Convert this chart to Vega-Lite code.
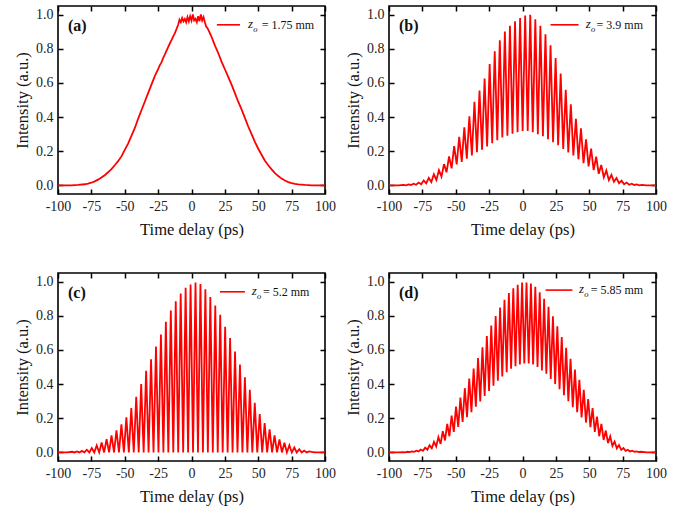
{
  "$schema": "https://vega.github.io/schema/vega-lite/v6.json",
  "background": "white",
  "padding": {"left": 13, "top": 4, "right": 5, "bottom": 5},
  "config": {
    "font": "Liberation Serif",
    "view": {"stroke": "#000", "strokeWidth": 1.6},
    "axis": {
      "labelFont": "Liberation Serif", "labelFontSize": 14, "labelColor": "#222",
      "titleFont": "Liberation Serif", "titleFontSize": 16.5, "titleFontWeight": "normal", "titleColor": "#111",
      "tickColor": "#000", "tickSize": -5, "tickWidth": 1.5, "domain": false, "grid": false, "labelPadding": 10,
      "labelOverlap": false, "labelFlush": false, "labelBound": false
    },
    "axisX": {"titlePadding": 8},
    "axisY": {"titlePadding": 5}
  },
  "datasets": {
    "a": [
      {"t":-100,"i":0.0},{"t":-95,"i":0.0},{"t":-90,"i":0.001},{"t":-85,"i":0.003},{"t":-80,"i":0.007},
      {"t":-77.5,"i":0.011},{"t":-75,"i":0.016},{"t":-72.5,"i":0.024},{"t":-70,"i":0.034},{"t":-67.5,"i":0.046},
      {"t":-65,"i":0.06},{"t":-62.5,"i":0.077},{"t":-60,"i":0.096},{"t":-57.5,"i":0.118},{"t":-55,"i":0.142},
      {"t":-52.5,"i":0.17},{"t":-50,"i":0.208},{"t":-47.5,"i":0.245},{"t":-45,"i":0.29},{"t":-42.5,"i":0.335},
      {"t":-40,"i":0.39},{"t":-37.5,"i":0.44},{"t":-35,"i":0.49},{"t":-32.5,"i":0.54},{"t":-30,"i":0.59},
      {"t":-27.5,"i":0.64},{"t":-25,"i":0.68},{"t":-24,"i":0.70},{"t":-22.5,"i":0.72},{"t":-21,"i":0.75},{"t":-20,"i":0.765},
      {"t":-17.5,"i":0.81},{"t":-16,"i":0.835},{"t":-15,"i":0.85},{"t":-13.5,"i":0.875},{"t":-12.5,"i":0.89},{"t":-11,"i":0.92},{"t":-10,"i":0.94},
      {"t":-9,"i":0.97},{"t":-8,"i":0.955},{"t":-7,"i":0.98},{"t":-6,"i":0.96},{"t":-5,"i":0.975},{"t":-4,"i":0.955},
      {"t":-3,"i":0.985},{"t":-2,"i":0.96},{"t":-1,"i":0.99},{"t":0,"i":0.965},{"t":1,"i":1.0},{"t":2,"i":0.965},
      {"t":3,"i":0.975},{"t":4,"i":0.955},{"t":5,"i":0.99},{"t":6,"i":0.96},{"t":7,"i":1.0},{"t":8,"i":0.965},
      {"t":9,"i":0.985},{"t":10,"i":0.955},{"t":11,"i":0.93},{"t":12,"i":0.92},{"t":13.5,"i":0.895},{"t":15,"i":0.87},
      {"t":16,"i":0.85},{"t":17.5,"i":0.82},{"t":20,"i":0.775},{"t":22.5,"i":0.725},{"t":25,"i":0.68},{"t":27.5,"i":0.635},
      {"t":30,"i":0.59},{"t":32.5,"i":0.54},{"t":35,"i":0.49},{"t":37.5,"i":0.445},{"t":40,"i":0.395},{"t":42.5,"i":0.345},
      {"t":45,"i":0.3},{"t":47.5,"i":0.255},{"t":50,"i":0.215},{"t":52.5,"i":0.18},{"t":55,"i":0.145},{"t":57.5,"i":0.118},
      {"t":60,"i":0.094},{"t":62.5,"i":0.072},{"t":65,"i":0.055},{"t":67.5,"i":0.04},{"t":70,"i":0.029},{"t":72.5,"i":0.02},
      {"t":75,"i":0.014},{"t":77.5,"i":0.009},{"t":80,"i":0.006},{"t":85,"i":0.003},{"t":90,"i":0.001},{"t":95,"i":0.0},{"t":100,"i":0.0}
    ],
    "b": [
      {"t":-100,"i":0.0},{"t":-93,"i":0.001},{"t":-89.2,"i":0.003},{"t":-87.3,"i":0.001},{"t":-85.4,"i":0.006},{"t":-83.5,"i":0.003},
      {"t":-81.6,"i":0.010},{"t":-79.7,"i":0.004},{"t":-77.8,"i":0.017},{"t":-75.9,"i":0.007},{"t":-74.0,"i":0.029},{"t":-72.1,"i":0.012},
      {"t":-70.2,"i":0.044},{"t":-68.3,"i":0.02},{"t":-66.4,"i":0.066},{"t":-64.5,"i":0.032},{"t":-62.6,"i":0.09},{"t":-60.7,"i":0.052},
      {"t":-58.8,"i":0.125},{"t":-56.9,"i":0.077},{"t":-55.0,"i":0.17},{"t":-53.1,"i":0.10},{"t":-51.2,"i":0.23},{"t":-49.3,"i":0.123},
      {"t":-47.4,"i":0.285},{"t":-45.5,"i":0.138},{"t":-43.6,"i":0.34},{"t":-41.7,"i":0.157},{"t":-39.8,"i":0.405},{"t":-37.9,"i":0.175},
      {"t":-36.0,"i":0.49},{"t":-34.1,"i":0.194},{"t":-32.2,"i":0.555},{"t":-30.3,"i":0.209},{"t":-28.4,"i":0.625},{"t":-26.5,"i":0.228},
      {"t":-24.6,"i":0.71},{"t":-22.7,"i":0.247},{"t":-20.8,"i":0.785},{"t":-18.9,"i":0.264},{"t":-17.0,"i":0.85},{"t":-15.1,"i":0.28},
      {"t":-13.2,"i":0.90},{"t":-11.3,"i":0.291},{"t":-9.4,"i":0.935},{"t":-7.5,"i":0.303},{"t":-5.6,"i":0.96},{"t":-3.7,"i":0.312},
      {"t":-1.8,"i":0.98},{"t":0.1,"i":0.318},{"t":2.0,"i":0.995},{"t":3.9,"i":0.318},{"t":5.8,"i":0.998},{"t":7.7,"i":0.311},
      {"t":9.6,"i":0.973},{"t":11.5,"i":0.30},{"t":13.4,"i":0.935},{"t":15.3,"i":0.288},{"t":17.2,"i":0.885},{"t":19.1,"i":0.27},
      {"t":21.0,"i":0.82},{"t":22.9,"i":0.253},{"t":24.8,"i":0.745},{"t":26.7,"i":0.235},{"t":28.6,"i":0.655},{"t":30.5,"i":0.213},
      {"t":32.4,"i":0.56},{"t":34.3,"i":0.193},{"t":36.2,"i":0.475},{"t":38.1,"i":0.175},{"t":40.0,"i":0.39},{"t":41.9,"i":0.153},
      {"t":43.8,"i":0.335},{"t":45.7,"i":0.131},{"t":47.6,"i":0.27},{"t":49.5,"i":0.112},{"t":51.4,"i":0.215},{"t":53.3,"i":0.09},
      {"t":55.2,"i":0.168},{"t":57.1,"i":0.068},{"t":59.0,"i":0.12},{"t":60.9,"i":0.048},{"t":62.8,"i":0.088},{"t":64.7,"i":0.031},
      {"t":66.6,"i":0.062},{"t":68.5,"i":0.021},{"t":70.4,"i":0.043},{"t":72.3,"i":0.013},{"t":74.2,"i":0.028},{"t":76.1,"i":0.007},
      {"t":78.0,"i":0.017},{"t":79.9,"i":0.004},{"t":81.8,"i":0.010},{"t":83.7,"i":0.003},{"t":85.6,"i":0.006},{"t":87.5,"i":0.001},
      {"t":89.4,"i":0.003},{"t":93,"i":0.001},{"t":100,"i":0.0}
    ],
    "c": [
      {"t":-100,"i":0.0},{"t":-93,"i":0.0},{"t":-89.5,"i":0.004},{"t":-87.65,"i":0.0},{"t":-85.8,"i":0.006},{"t":-83.95,"i":0.0},
      {"t":-82.1,"i":0.009},{"t":-80.25,"i":0.0},{"t":-78.4,"i":0.016},{"t":-76.55,"i":0.0},{"t":-74.7,"i":0.026},{"t":-72.85,"i":0.0},
      {"t":-71.0,"i":0.041},{"t":-69.15,"i":0.0},{"t":-67.3,"i":0.058},{"t":-65.45,"i":0.0},{"t":-63.6,"i":0.078},{"t":-61.75,"i":0.0},
      {"t":-59.9,"i":0.10},{"t":-58.05,"i":0.0},{"t":-56.2,"i":0.13},{"t":-54.35,"i":0.0},{"t":-52.5,"i":0.165},{"t":-50.65,"i":0.0},
      {"t":-48.8,"i":0.205},{"t":-46.95,"i":0.0},{"t":-45.1,"i":0.26},{"t":-43.25,"i":0.0},{"t":-41.4,"i":0.325},{"t":-39.55,"i":0.0},
      {"t":-37.7,"i":0.40},{"t":-35.85,"i":0.0},{"t":-34.0,"i":0.478},{"t":-32.15,"i":0.0},{"t":-30.3,"i":0.545},{"t":-28.45,"i":0.0},
      {"t":-26.6,"i":0.62},{"t":-24.75,"i":0.0},{"t":-22.9,"i":0.69},{"t":-21.05,"i":0.0},{"t":-19.2,"i":0.765},{"t":-17.35,"i":0.0},
      {"t":-15.5,"i":0.83},{"t":-13.65,"i":0.0},{"t":-11.8,"i":0.885},{"t":-9.95,"i":0.0},{"t":-8.1,"i":0.93},{"t":-6.25,"i":0.0},
      {"t":-4.4,"i":0.963},{"t":-2.55,"i":0.0},{"t":-0.7,"i":0.982},{"t":1.15,"i":0.0},{"t":3.0,"i":0.994},{"t":4.85,"i":0.0},
      {"t":6.7,"i":0.986},{"t":8.55,"i":0.0},{"t":10.4,"i":0.955},{"t":12.25,"i":0.0},{"t":14.1,"i":0.91},{"t":15.95,"i":0.0},
      {"t":17.8,"i":0.86},{"t":19.65,"i":0.0},{"t":21.5,"i":0.805},{"t":23.35,"i":0.0},{"t":25.2,"i":0.736},{"t":27.05,"i":0.0},
      {"t":28.9,"i":0.67},{"t":30.75,"i":0.0},{"t":32.6,"i":0.59},{"t":34.45,"i":0.0},{"t":36.3,"i":0.514},{"t":38.15,"i":0.0},
      {"t":40.0,"i":0.44},{"t":41.85,"i":0.0},{"t":43.7,"i":0.366},{"t":45.55,"i":0.0},{"t":47.4,"i":0.29},{"t":49.25,"i":0.0},
      {"t":51.1,"i":0.225},{"t":52.95,"i":0.0},{"t":54.8,"i":0.172},{"t":56.65,"i":0.0},{"t":58.5,"i":0.135},{"t":60.35,"i":0.0},
      {"t":62.2,"i":0.10},{"t":64.05,"i":0.0},{"t":65.9,"i":0.076},{"t":67.75,"i":0.0},{"t":69.6,"i":0.057},{"t":71.45,"i":0.0},
      {"t":73.3,"i":0.042},{"t":75.15,"i":0.0},{"t":77.0,"i":0.029},{"t":78.85,"i":0.0},{"t":80.7,"i":0.019},{"t":82.55,"i":0.0},
      {"t":84.4,"i":0.011},{"t":86.25,"i":0.0},{"t":88.1,"i":0.006},{"t":92,"i":0.0},{"t":100,"i":0.0}
    ],
    "d": [
      {"t":-100,"i":0.0},{"t":-93,"i":0.001},{"t":-89.4,"i":0.002},{"t":-87.75,"i":0.001},{"t":-86.1,"i":0.004},{"t":-84.45,"i":0.002},
      {"t":-82.8,"i":0.006},{"t":-81.15,"i":0.004},{"t":-79.5,"i":0.01},{"t":-77.85,"i":0.006},{"t":-76.2,"i":0.017},{"t":-74.55,"i":0.01},
      {"t":-72.9,"i":0.028},{"t":-71.25,"i":0.016},{"t":-69.6,"i":0.042},{"t":-67.95,"i":0.024},{"t":-66.3,"i":0.062},{"t":-64.65,"i":0.035},
      {"t":-63.0,"i":0.09},{"t":-61.35,"i":0.05},{"t":-59.7,"i":0.124},{"t":-58.05,"i":0.07},{"t":-56.4,"i":0.167},{"t":-54.75,"i":0.095},
      {"t":-53.1,"i":0.215},{"t":-51.45,"i":0.12},{"t":-49.8,"i":0.268},{"t":-48.15,"i":0.15},{"t":-46.5,"i":0.321},{"t":-44.85,"i":0.178},
      {"t":-43.2,"i":0.376},{"t":-41.55,"i":0.206},{"t":-39.9,"i":0.432},{"t":-38.25,"i":0.236},{"t":-36.6,"i":0.491},{"t":-34.95,"i":0.267},
      {"t":-33.3,"i":0.552},{"t":-31.65,"i":0.298},{"t":-30.0,"i":0.615},{"t":-28.35,"i":0.33},{"t":-26.7,"i":0.681},{"t":-25.05,"i":0.36},
      {"t":-23.4,"i":0.742},{"t":-21.75,"i":0.39},{"t":-20.1,"i":0.798},{"t":-18.45,"i":0.42},{"t":-16.8,"i":0.848},{"t":-15.15,"i":0.445},
      {"t":-13.5,"i":0.893},{"t":-11.85,"i":0.47},{"t":-10.2,"i":0.933},{"t":-8.55,"i":0.49},{"t":-6.9,"i":0.96},{"t":-5.25,"i":0.505},
      {"t":-3.6,"i":0.981},{"t":-1.95,"i":0.515},{"t":-0.3,"i":0.994},{"t":1.35,"i":0.52},{"t":3.0,"i":0.995},{"t":4.65,"i":0.52},
      {"t":6.3,"i":0.988},{"t":7.95,"i":0.515},{"t":9.6,"i":0.969},{"t":11.25,"i":0.5},{"t":12.9,"i":0.937},{"t":14.55,"i":0.48},
      {"t":16.2,"i":0.899},{"t":17.85,"i":0.46},{"t":19.5,"i":0.852},{"t":21.15,"i":0.43},{"t":22.8,"i":0.797},{"t":24.45,"i":0.40},
      {"t":26.1,"i":0.738},{"t":27.75,"i":0.37},{"t":29.4,"i":0.676},{"t":31.05,"i":0.335},{"t":32.7,"i":0.612},{"t":34.35,"i":0.30},
      {"t":36.0,"i":0.548},{"t":37.65,"i":0.265},{"t":39.3,"i":0.485},{"t":40.95,"i":0.235},{"t":42.6,"i":0.425},{"t":44.25,"i":0.205},
      {"t":45.9,"i":0.367},{"t":47.55,"i":0.175},{"t":49.2,"i":0.313},{"t":50.85,"i":0.148},{"t":52.5,"i":0.26},{"t":54.15,"i":0.12},
      {"t":55.8,"i":0.21},{"t":57.45,"i":0.095},{"t":59.1,"i":0.167},{"t":60.75,"i":0.073},{"t":62.4,"i":0.128},{"t":64.05,"i":0.055},
      {"t":65.7,"i":0.094},{"t":67.35,"i":0.038},{"t":69.0,"i":0.064},{"t":70.65,"i":0.024},{"t":72.3,"i":0.043},{"t":73.95,"i":0.015},
      {"t":75.6,"i":0.026},{"t":77.25,"i":0.009},{"t":78.9,"i":0.016},{"t":80.55,"i":0.006},{"t":82.2,"i":0.01},{"t":83.85,"i":0.004},
      {"t":85.5,"i":0.006},{"t":87.15,"i":0.002},{"t":88.8,"i":0.004},{"t":93,"i":0.001},{"t":100,"i":0.0}
    ]
  },
  "spacing": 32,
  "vconcat": [
    {
      "spacing": 7,
      "hconcat": [
        {
          "width": 267, "height": 188,
          "resolve": {"axis": {"x": "independent", "y": "independent"}},
          "layer": [
            {
              "data": {"name": "a"},
              "mark": {"type": "line", "color": "#ff0000", "strokeWidth": 1.8, "clip": true},
              "encoding": {
                "x": {"field": "t", "type": "quantitative", "scale": {"domain": [-100, 100], "nice": false, "zero": false},
                      "axis": {"title": "Time delay (ps)", "values": [-100, -75, -50, -25, 0, 25, 50, 75, 100], "labelExpr": "(datum.value < 0 ? '-' : '') + abs(datum.value)"}},
                "y": {"field": "i", "type": "quantitative", "scale": {"domain": [-0.05, 1.05], "nice": false, "zero": false},
                      "axis": {"title": "Intensity (a.u.)", "values": [0, 0.2, 0.4, 0.6, 0.8, 1.0], "format": ".1f"}}
              }
            },
            {
              "data": {"values": [{}]},
              "mark": {"type": "rule", "color": "#ff0000", "strokeWidth": 1.6},
              "encoding": {
                "x": {"datum": 19, "type": "quantitative", "axis": {"orient": "top", "labels": false, "title": null, "values": [-100, -75, -50, -25, 0, 25, 50, 75, 100]}},
                "x2": {"datum": 36.3},
                "y": {"datum": 0.94, "type": "quantitative", "axis": {"orient": "right", "labels": false, "title": null, "values": [0, 0.2, 0.4, 0.6, 0.8, 1.0]}}
              }
            },
            {
              "data": {"values": [{}]},
              "mark": {"type": "text", "text": "(a)", "fontSize": 16, "fontWeight": "bold", "align": "left", "baseline": "middle", "color": "#111"},
              "encoding": {"x": {"datum": -92.5, "type": "quantitative", "axis": null}, "y": {"datum": 0.935, "type": "quantitative", "axis": null}}
            },
            {
              "data": {"values": [{}]},
              "mark": {"type": "text", "text": "z", "fontSize": 13, "fontStyle": "italic", "align": "left", "baseline": "middle", "color": "#111"},
              "encoding": {"x": {"datum": 42.3, "type": "quantitative", "axis": null}, "y": {"datum": 0.945, "type": "quantitative", "axis": null}}
            },
            {
              "data": {"values": [{}]},
              "mark": {"type": "text", "text": "o", "fontSize": 8.5, "fontStyle": "italic", "align": "left", "baseline": "middle", "color": "#111"},
              "encoding": {"x": {"datum": 46.2, "type": "quantitative", "axis": null}, "y": {"datum": 0.915, "type": "quantitative", "axis": null}}
            },
            {
              "data": {"values": [{}]},
              "mark": {"type": "text", "text": "= 1.75 mm", "fontSize": 12, "align": "left", "baseline": "middle", "color": "#111"},
              "encoding": {"x": {"datum": 52.6, "type": "quantitative", "axis": null}, "y": {"datum": 0.94, "type": "quantitative", "axis": null}}
            }
          ]
        },
        {
          "width": 267, "height": 188,
          "resolve": {"axis": {"x": "independent", "y": "independent"}},
          "layer": [
            {
              "data": {"name": "b"},
              "mark": {"type": "line", "color": "#ff0000", "strokeWidth": 1.8, "clip": true},
              "encoding": {
                "x": {"field": "t", "type": "quantitative", "scale": {"domain": [-100, 100], "nice": false, "zero": false},
                      "axis": {"title": "Time delay (ps)", "values": [-100, -75, -50, -25, 0, 25, 50, 75, 100], "labelExpr": "(datum.value < 0 ? '-' : '') + abs(datum.value)"}},
                "y": {"field": "i", "type": "quantitative", "scale": {"domain": [-0.05, 1.05], "nice": false, "zero": false},
                      "axis": {"title": "Intensity (a.u.)", "values": [0, 0.2, 0.4, 0.6, 0.8, 1.0], "format": ".1f"}}
              }
            },
            {
              "data": {"values": [{}]},
              "mark": {"type": "rule", "color": "#ff0000", "strokeWidth": 1.6},
              "encoding": {
                "x": {"datum": 21, "type": "quantitative", "axis": {"orient": "top", "labels": false, "title": null, "values": [-100, -75, -50, -25, 0, 25, 50, 75, 100]}},
                "x2": {"datum": 42},
                "y": {"datum": 0.94, "type": "quantitative", "axis": {"orient": "right", "labels": false, "title": null, "values": [0, 0.2, 0.4, 0.6, 0.8, 1.0]}}
              }
            },
            {
              "data": {"values": [{}]},
              "mark": {"type": "text", "text": "(b)", "fontSize": 16, "fontWeight": "bold", "align": "left", "baseline": "middle", "color": "#111"},
              "encoding": {"x": {"datum": -92.5, "type": "quantitative", "axis": null}, "y": {"datum": 0.935, "type": "quantitative", "axis": null}}
            },
            {
              "data": {"values": [{}]},
              "mark": {"type": "text", "text": "z", "fontSize": 13, "fontStyle": "italic", "align": "left", "baseline": "middle", "color": "#111"},
              "encoding": {"x": {"datum": 47.4, "type": "quantitative", "axis": null}, "y": {"datum": 0.945, "type": "quantitative", "axis": null}}
            },
            {
              "data": {"values": [{}]},
              "mark": {"type": "text", "text": "o", "fontSize": 8.5, "fontStyle": "italic", "align": "left", "baseline": "middle", "color": "#111"},
              "encoding": {"x": {"datum": 51.3, "type": "quantitative", "axis": null}, "y": {"datum": 0.915, "type": "quantitative", "axis": null}}
            },
            {
              "data": {"values": [{}]},
              "mark": {"type": "text", "text": "= 3.9 mm", "fontSize": 12, "align": "left", "baseline": "middle", "color": "#111"},
              "encoding": {"x": {"datum": 55.5, "type": "quantitative", "axis": null}, "y": {"datum": 0.94, "type": "quantitative", "axis": null}}
            }
          ]
        }
      ]
    },
    {
      "spacing": 7,
      "hconcat": [
        {
          "width": 267, "height": 188,
          "resolve": {"axis": {"x": "independent", "y": "independent"}},
          "layer": [
            {
              "data": {"name": "c"},
              "mark": {"type": "line", "color": "#ff0000", "strokeWidth": 1.8, "clip": true},
              "encoding": {
                "x": {"field": "t", "type": "quantitative", "scale": {"domain": [-100, 100], "nice": false, "zero": false},
                      "axis": {"title": "Time delay (ps)", "values": [-100, -75, -50, -25, 0, 25, 50, 75, 100], "labelExpr": "(datum.value < 0 ? '-' : '') + abs(datum.value)"}},
                "y": {"field": "i", "type": "quantitative", "scale": {"domain": [-0.05, 1.05], "nice": false, "zero": false},
                      "axis": {"title": "Intensity (a.u.)", "values": [0, 0.2, 0.4, 0.6, 0.8, 1.0], "format": ".1f"}}
              }
            },
            {
              "data": {"values": [{}]},
              "mark": {"type": "rule", "color": "#ff0000", "strokeWidth": 1.6},
              "encoding": {
                "x": {"datum": 21.3, "type": "quantitative", "axis": {"orient": "top", "labels": false, "title": null, "values": [-100, -75, -50, -25, 0, 25, 50, 75, 100]}},
                "x2": {"datum": 40},
                "y": {"datum": 0.94, "type": "quantitative", "axis": {"orient": "right", "labels": false, "title": null, "values": [0, 0.2, 0.4, 0.6, 0.8, 1.0]}}
              }
            },
            {
              "data": {"values": [{}]},
              "mark": {"type": "text", "text": "(c)", "fontSize": 16, "fontWeight": "bold", "align": "left", "baseline": "middle", "color": "#111"},
              "encoding": {"x": {"datum": -92.5, "type": "quantitative", "axis": null}, "y": {"datum": 0.935, "type": "quantitative", "axis": null}}
            },
            {
              "data": {"values": [{}]},
              "mark": {"type": "text", "text": "z", "fontSize": 13, "fontStyle": "italic", "align": "left", "baseline": "middle", "color": "#111"},
              "encoding": {"x": {"datum": 45.2, "type": "quantitative", "axis": null}, "y": {"datum": 0.945, "type": "quantitative", "axis": null}}
            },
            {
              "data": {"values": [{}]},
              "mark": {"type": "text", "text": "o", "fontSize": 8.5, "fontStyle": "italic", "align": "left", "baseline": "middle", "color": "#111"},
              "encoding": {"x": {"datum": 49.1, "type": "quantitative", "axis": null}, "y": {"datum": 0.915, "type": "quantitative", "axis": null}}
            },
            {
              "data": {"values": [{}]},
              "mark": {"type": "text", "text": "= 5.2 mm", "fontSize": 12, "align": "left", "baseline": "middle", "color": "#111"},
              "encoding": {"x": {"datum": 53.5, "type": "quantitative", "axis": null}, "y": {"datum": 0.94, "type": "quantitative", "axis": null}}
            }
          ]
        },
        {
          "width": 267, "height": 188,
          "resolve": {"axis": {"x": "independent", "y": "independent"}},
          "layer": [
            {
              "data": {"name": "d"},
              "mark": {"type": "line", "color": "#ff0000", "strokeWidth": 1.8, "clip": true},
              "encoding": {
                "x": {"field": "t", "type": "quantitative", "scale": {"domain": [-100, 100], "nice": false, "zero": false},
                      "axis": {"title": "Time delay (ps)", "values": [-100, -75, -50, -25, 0, 25, 50, 75, 100], "labelExpr": "(datum.value < 0 ? '-' : '') + abs(datum.value)"}},
                "y": {"field": "i", "type": "quantitative", "scale": {"domain": [-0.05, 1.05], "nice": false, "zero": false},
                      "axis": {"title": "Intensity (a.u.)", "values": [0, 0.2, 0.4, 0.6, 0.8, 1.0], "format": ".1f"}}
              }
            },
            {
              "data": {"values": [{}]},
              "mark": {"type": "rule", "color": "#ff0000", "strokeWidth": 1.6},
              "encoding": {
                "x": {"datum": 17.3, "type": "quantitative", "axis": {"orient": "top", "labels": false, "title": null, "values": [-100, -75, -50, -25, 0, 25, 50, 75, 100]}},
                "x2": {"datum": 37.4},
                "y": {"datum": 0.95, "type": "quantitative", "axis": {"orient": "right", "labels": false, "title": null, "values": [0, 0.2, 0.4, 0.6, 0.8, 1.0]}}
              }
            },
            {
              "data": {"values": [{}]},
              "mark": {"type": "text", "text": "(d)", "fontSize": 16, "fontWeight": "bold", "align": "left", "baseline": "middle", "color": "#111"},
              "encoding": {"x": {"datum": -92.5, "type": "quantitative", "axis": null}, "y": {"datum": 0.935, "type": "quantitative", "axis": null}}
            },
            {
              "data": {"values": [{}]},
              "mark": {"type": "text", "text": "z", "fontSize": 13, "fontStyle": "italic", "align": "left", "baseline": "middle", "color": "#111"},
              "encoding": {"x": {"datum": 42.3, "type": "quantitative", "axis": null}, "y": {"datum": 0.955, "type": "quantitative", "axis": null}}
            },
            {
              "data": {"values": [{}]},
              "mark": {"type": "text", "text": "o", "fontSize": 8.5, "fontStyle": "italic", "align": "left", "baseline": "middle", "color": "#111"},
              "encoding": {"x": {"datum": 46.2, "type": "quantitative", "axis": null}, "y": {"datum": 0.925, "type": "quantitative", "axis": null}}
            },
            {
              "data": {"values": [{}]},
              "mark": {"type": "text", "text": "= 5.85 mm", "fontSize": 12, "align": "left", "baseline": "middle", "color": "#111"},
              "encoding": {"x": {"datum": 51.1, "type": "quantitative", "axis": null}, "y": {"datum": 0.95, "type": "quantitative", "axis": null}}
            }
          ]
        }
      ]
    }
  ]
}
